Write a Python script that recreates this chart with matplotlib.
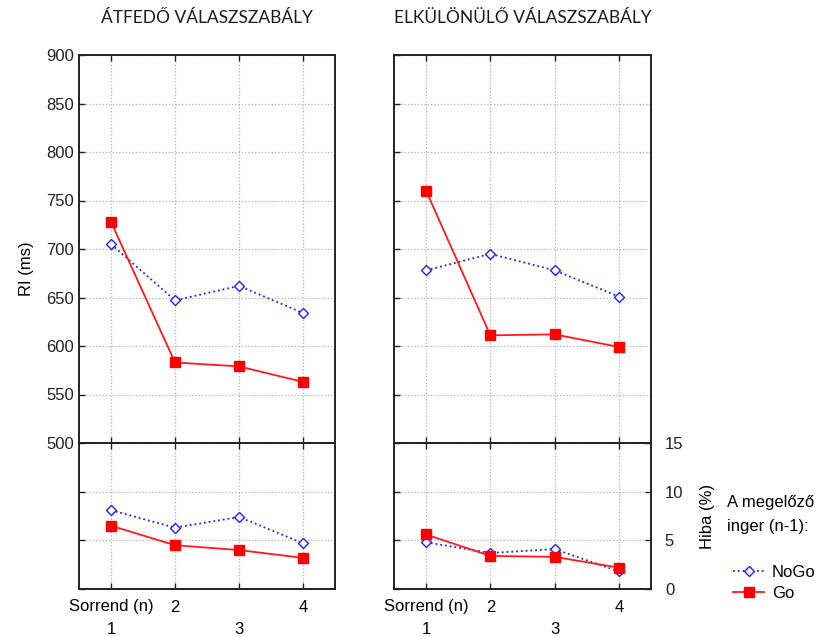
import numpy as np
import matplotlib.pyplot as plt
from matplotlib.transforms import blended_transform_factory

plt.rcParams["font.family"] = ["Liberation Sans", "DejaVu Sans"]

# ---------------------------------------------------------------------------
# Data
# ---------------------------------------------------------------------------
ORDER = [1, 2, 3, 4]
TITLES = ["ÁTFEDŐ VÁLASZSZABÁLY", "ELKÜLÖNÜLŐ VÁLASZSZABÁLY"]

# reaction time (ms)
rt_nogo_overlap = [705, 647, 662, 634]
rt_go_overlap = [728, 583, 579, 563]
rt_nogo_separate = [678, 695, 678, 651]
rt_go_separate = [760, 611, 612, 599]

# error rate (%)
err_nogo_overlap = [8.1, 6.3, 7.4, 4.7]
err_go_overlap = [6.5, 4.5, 4.0, 3.2]
err_nogo_separate = [4.8, 3.7, 4.1, 1.8]
err_go_separate = [5.6, 3.4, 3.3, 2.2]

RT_TICKS = [500, 550, 600, 650, 700, 750, 800, 850, 900]
ERR_TICKS = [0, 5, 10, 15]

NOGO_STYLE = dict(color="#1f1fff", linestyle=":", linewidth=1.3, marker="D",
                  markersize=5, markerfacecolor="white", markeredgecolor="#1f1fff",
                  markeredgewidth=1.0)
GO_STYLE = dict(color="#ff1a1a", linestyle="-", linewidth=1.3, marker="s",
                markersize=7, markerfacecolor="#ff0000", markeredgecolor="#ff0000")

W, H = 816, 637
FS = 12
fig = plt.figure(figsize=(W / 100, H / 100), dpi=100)


def px_axes(x0, y0, x1, y1):
    return fig.add_axes([x0 / W, 1 - y1 / H, (x1 - x0) / W, (y1 - y0) / H])


def style_axes(ax):
    for sp in ax.spines.values():
        sp.set_linewidth(1.4)
        sp.set_color("#222222")
    ax.grid(True, linestyle=":", color="#b0b0b0", linewidth=0.9)
    ax.set_axisbelow(True)
    ax.tick_params(direction="in", length=4, width=1, colors="#222222",
                   labelsize=FS, top=True)
    ax.set_xlim(0.5, 4.5)
    ax.set_xticks(ORDER)


cols = [(79, 335), (394, 651)]
top_y = (55, 443)
bot_y = (443, 589)

rt_data = [(rt_nogo_overlap, rt_go_overlap), (rt_nogo_separate, rt_go_separate)]
err_data = [(err_nogo_overlap, err_go_overlap), (err_nogo_separate, err_go_separate)]

for i, (x0, x1) in enumerate(cols):
    ax_t = px_axes(x0, top_y[0], x1, top_y[1])
    ax_b = px_axes(x0, bot_y[0], x1, bot_y[1])
    style_axes(ax_t)
    style_axes(ax_b)

    nogo, go = rt_data[i]
    ax_t.plot(ORDER, nogo, **NOGO_STYLE)
    ax_t.plot(ORDER, go, **GO_STYLE)
    ax_t.set_ylim(500, 900)
    ax_t.set_yticks(RT_TICKS)
    ax_t.tick_params(labelbottom=False)

    nogo, go = err_data[i]
    l1, = ax_b.plot(ORDER, nogo, **NOGO_STYLE, label="NoGo")
    l2, = ax_b.plot(ORDER, go, **GO_STYLE, label="Go")
    ax_b.set_ylim(0, 15)
    ax_b.set_yticks(ERR_TICKS)
    ax_b.tick_params(labelbottom=False, labelleft=False)

    if i == 0:
        ax_t.set_ylabel("RI (ms)", fontsize=FS)
        ax_t.yaxis.set_label_coords(-0.175, 0.45)
    else:
        ax_t.tick_params(labelleft=False)
        ax_b.tick_params(right=True, labelright=True, pad=10)
        ax_b.set_ylabel("Hiba (%)", fontsize=FS)
        ax_b.yaxis.set_label_position("right")
        ax_b.yaxis.set_label_coords(1.19, 0.5)

    # staggered x labels
    h_b = bot_y[1] - bot_y[0]
    trans = blended_transform_factory(ax_b.transData, ax_b.transAxes)
    ax_b.text(1, -18 / h_b, "Sorrend (n)", transform=trans, ha="center", va="center", fontsize=FS)
    for x in ORDER:
        yy = -18 / h_b if x % 2 == 0 else -40 / h_b
        ax_b.text(x, yy, str(x), transform=trans, ha="center", va="center", fontsize=FS)

    ax_t.text(0.5, 1 + 37 / 388, TITLES[i], transform=ax_t.transAxes, ha="center",
              va="center", fontsize=12.5, family=["Lato", "DejaVu Sans"],
              color="#1a1a1a")

fig.text(727 / W, 1 - 514 / H, "A megelőző\ninger (n-1):", ha="left", va="center",
         fontsize=FS, linespacing=1.75)
fig.legend(handles=[l1, l2], loc="upper left", bbox_to_anchor=(726 / W, 1 - 558 / H),
           frameon=False, fontsize=FS, handlelength=1.9, handletextpad=0.45,
           labelspacing=0.35, borderaxespad=0)

fig.savefig("out.png", dpi=100)
